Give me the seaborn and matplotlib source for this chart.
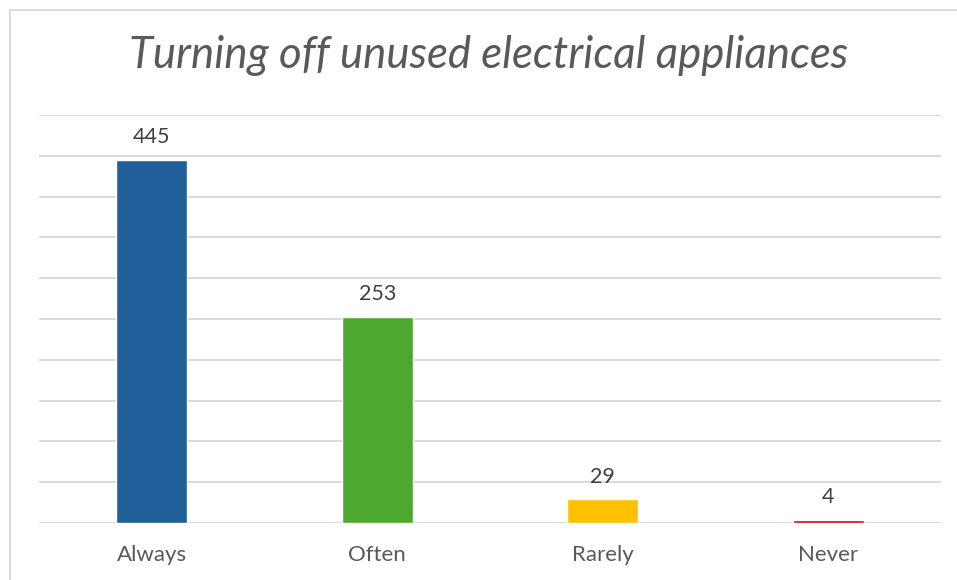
import matplotlib
matplotlib.use("Agg")
import matplotlib.pyplot as plt
import seaborn as sns
import pandas as pd
from matplotlib.patches import Rectangle

# Survey responses: how often unused electrical appliances are switched off
categories = ["Always", "Often", "Rarely", "Never"]
counts = [445, 253, 29, 4]
bar_colors = ["#215F9A", "#4EA72E", "#FFC000", "#E80000"]
y_ticks = [0, 50, 100, 150, 200, 250, 300, 350, 400, 450, 500]
title = "Turning off unused electrical appliances"

df = pd.DataFrame({"response": categories, "count": counts})

sns.set_theme(style="white")
plt.rcParams["font.family"] = ["Lato", "DejaVu Sans"]

text_color = "#595959"
grid_color = "#D9D9D9"

fig = plt.figure(figsize=(9.57, 5.8), dpi=100)
ax = fig.add_axes([39 / 957, 1 - 523 / 580, 902 / 957, 408 / 580])

sns.barplot(data=df, x="response", y="count", hue="response",
            palette=bar_colors, order=categories, hue_order=categories,
            width=0.315, legend=False, saturation=1, ax=ax, zorder=3)

ax.set_xlim(-0.5, 3.5)
ax.set_ylim(0, 500)
ax.set_yticks(y_ticks)
ax.set_yticklabels([])
ax.tick_params(axis="y", length=0)
ax.yaxis.grid(True, color=grid_color, linewidth=1.4, zorder=0)
ax.set_axisbelow(True)
for s in ax.spines.values():
    s.set_visible(False)

ax.tick_params(axis="x", length=0, pad=16, labelsize=16, labelcolor=text_color)
ax.set_xlabel("")
ax.set_ylabel("")

# Value labels above each bar
for i, v in enumerate(counts):
    ax.annotate(str(v), xy=(i, v), xytext=(0, 12), textcoords="offset points",
                ha="center", va="baseline", fontsize=15.5, color="#404040")

fig.text(489 / 957, 1 - 68 / 580, title, ha="center", va="baseline",
         fontsize=31.5, style="italic", color=text_color)

# Chart frame
fig.patches.append(Rectangle((10 / 957, -0.1), 1.1, 1 - 10 / 580 + 0.1,
                             transform=fig.transFigure, fill=False,
                             edgecolor=grid_color, linewidth=1.3))

fig.savefig("out.png", dpi=100)
